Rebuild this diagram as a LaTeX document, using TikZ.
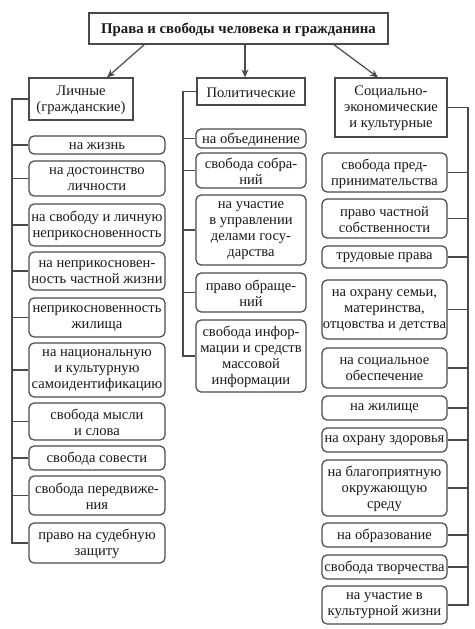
\documentclass[tikz,border=0pt]{standalone}
\usepackage{fontspec}
\setmainfont{Liberation Serif}
\usetikzlibrary{arrows.meta}
\definecolor{linec}{HTML}{4A4A4A}
\definecolor{textc}{HTML}{1A1A1A}
\newcommand\mybox[7]{%
  \node[#1, minimum width={(#4)-(#2)}, minimum height={(#5)-(#3)}] (#6) at ({((#2)+(#4))/2},{((#3)+(#5))/2}) {};
  \node[boxtext, font=\csname #1font\endcsname] (#6t) at ([yshift=-1pt]#6.center) {#7};}
\newcommand\catboxfont{\fontsize{14.6}{16}\selectfont}
\newcommand\itemboxfont{\fontsize{14.6}{16}\selectfont}
\newcommand\titleboxfont{\fontsize{14.8}{16}\selectfont\bfseries}
\tikzset{
  catbox/.style={draw=linec, line width=1.2pt, inner sep=0pt},
  itembox/.style={catbox, rounded corners=5pt},
  titlebox/.style={catbox},
  boxtext/.style={inner sep=0pt, align=center, text=textc},
  conn/.style={draw=linec, line width=1.2pt},
  arr/.style={conn, -{Stealth[length=8pt,width=7pt]}}
}
\begin{document}
\begin{tikzpicture}[x=1pt,y=-1pt]
\fill[white] (0,0) rectangle (474,629);
\useasboundingbox (0,0) rectangle (474,629);
\coordinate (lx) at (12,0);
\coordinate (mx) at (183,0);
\coordinate (rx) at (468,0);

\mybox{titlebox}{89}{13}{388}{44}{title}{Права и свободы человека и гражданина}
\mybox{catbox}{29}{78}{133}{120}{lich}{Личные\\(гражданские)}
\mybox{catbox}{197}{78}{305}{105}{pol}{Политические}
\mybox{catbox}{335}{78}{447}{137}{soc}{Социально-\\экономические\\и культурные}

\coordinate (a1) at (145,44);
\coordinate (a2) at (245,44);
\coordinate (a3) at (333,44);
\draw[arr] (a1) -- (lich.north -| 107,0);
\draw[arr] (a2) -- (pol.north -| a2);
\draw[arr] (a3) -- (soc.north -| 378,0);

% left column
\mybox{itembox}{29}{136}{165}{154}{L1}{на жизнь}
\mybox{itembox}{29}{161}{165}{196}{L2}{на достоинство\\личности}
\mybox{itembox}{29}{204}{165}{246}{L3}{на свободу и личную\\неприкосновенность}
\mybox{itembox}{29}{252}{165}{290}{L4}{на неприкосновен-\\ность частной жизни}
\mybox{itembox}{29}{298}{165}{337}{L5}{неприкосновенность\\жилища}
\mybox{itembox}{29}{343}{165}{397}{L6}{на национальную\\и культурную\\самоидентификацию}
\mybox{itembox}{29}{403}{165}{440}{L7}{свобода мысли\\и слова}
\mybox{itembox}{29}{446}{165}{470}{L8}{свобода совести}
\mybox{itembox}{29}{476}{165}{515}{L9}{свобода передвиже-\\ния}
\mybox{itembox}{29}{523}{165}{563}{L10}{право на судебную\\защиту}

% middle column
\mybox{itembox}{196}{129}{306}{148}{M1}{на объединение}
\mybox{itembox}{196}{153}{306}{188}{M2}{свобода собра-\\ний}
\mybox{itembox}{196}{195}{306}{265}{M3}{на участие\\в управлении\\делами госу-\\дарства}
\mybox{itembox}{196}{273}{306}{312}{M4}{право обраще-\\ний}
\mybox{itembox}{196}{320}{306}{392}{M5}{свобода инфор-\\мации и средств\\массовой\\информации}

% right column
\mybox{itembox}{322}{153}{447}{192}{R1}{свобода пред-\\принимательства}
\mybox{itembox}{322}{199}{447}{238}{R2}{право частной\\собственности}
\mybox{itembox}{322}{246}{447}{268}{R3}{трудовые права}
\mybox{itembox}{322}{280}{447}{339}{R4}{на охрану семьи,\\материнства,\\отцовства и детства}
\mybox{itembox}{322}{348}{447}{388}{R5}{на социальное\\обеспечение}
\mybox{itembox}{322}{396}{447}{420}{R6}{на жилище}
\mybox{itembox}{322}{428}{447}{452}{R7}{на охрану здоровья}
\mybox{itembox}{322}{460}{447}{516}{R8}{на благоприятную\\окружающую\\среду}
\mybox{itembox}{322}{523}{447}{547}{R9}{на образование}
\mybox{itembox}{322}{555}{447}{579}{R10}{свобода творчества}
\mybox{itembox}{322}{586}{447}{624}{R11}{на участие в\\культурной жизни}

% connectors
\draw[conn] (lich.west) -- (lich.west -| lx) |- (L10.west);
\foreach \n in {L1,L2,L3,L4,L5,L6,L7,L8,L9}
  \draw[conn] (\n.west) -- (\n.west -| lx);
\draw[conn] (pol.west) -- (pol.west -| mx) |- (M5.west);
\foreach \n in {M1,M2,M3,M4}
  \draw[conn] (\n.west) -- (\n.west -| mx);
\draw[conn] (soc.east) -- (soc.east -| rx) |- (R11.east);
\foreach \n in {R1,R2,R3,R4,R5,R6,R7,R8,R9,R10}
  \draw[conn] (\n.east) -- (\n.east -| rx);
\end{tikzpicture}
\end{document}
